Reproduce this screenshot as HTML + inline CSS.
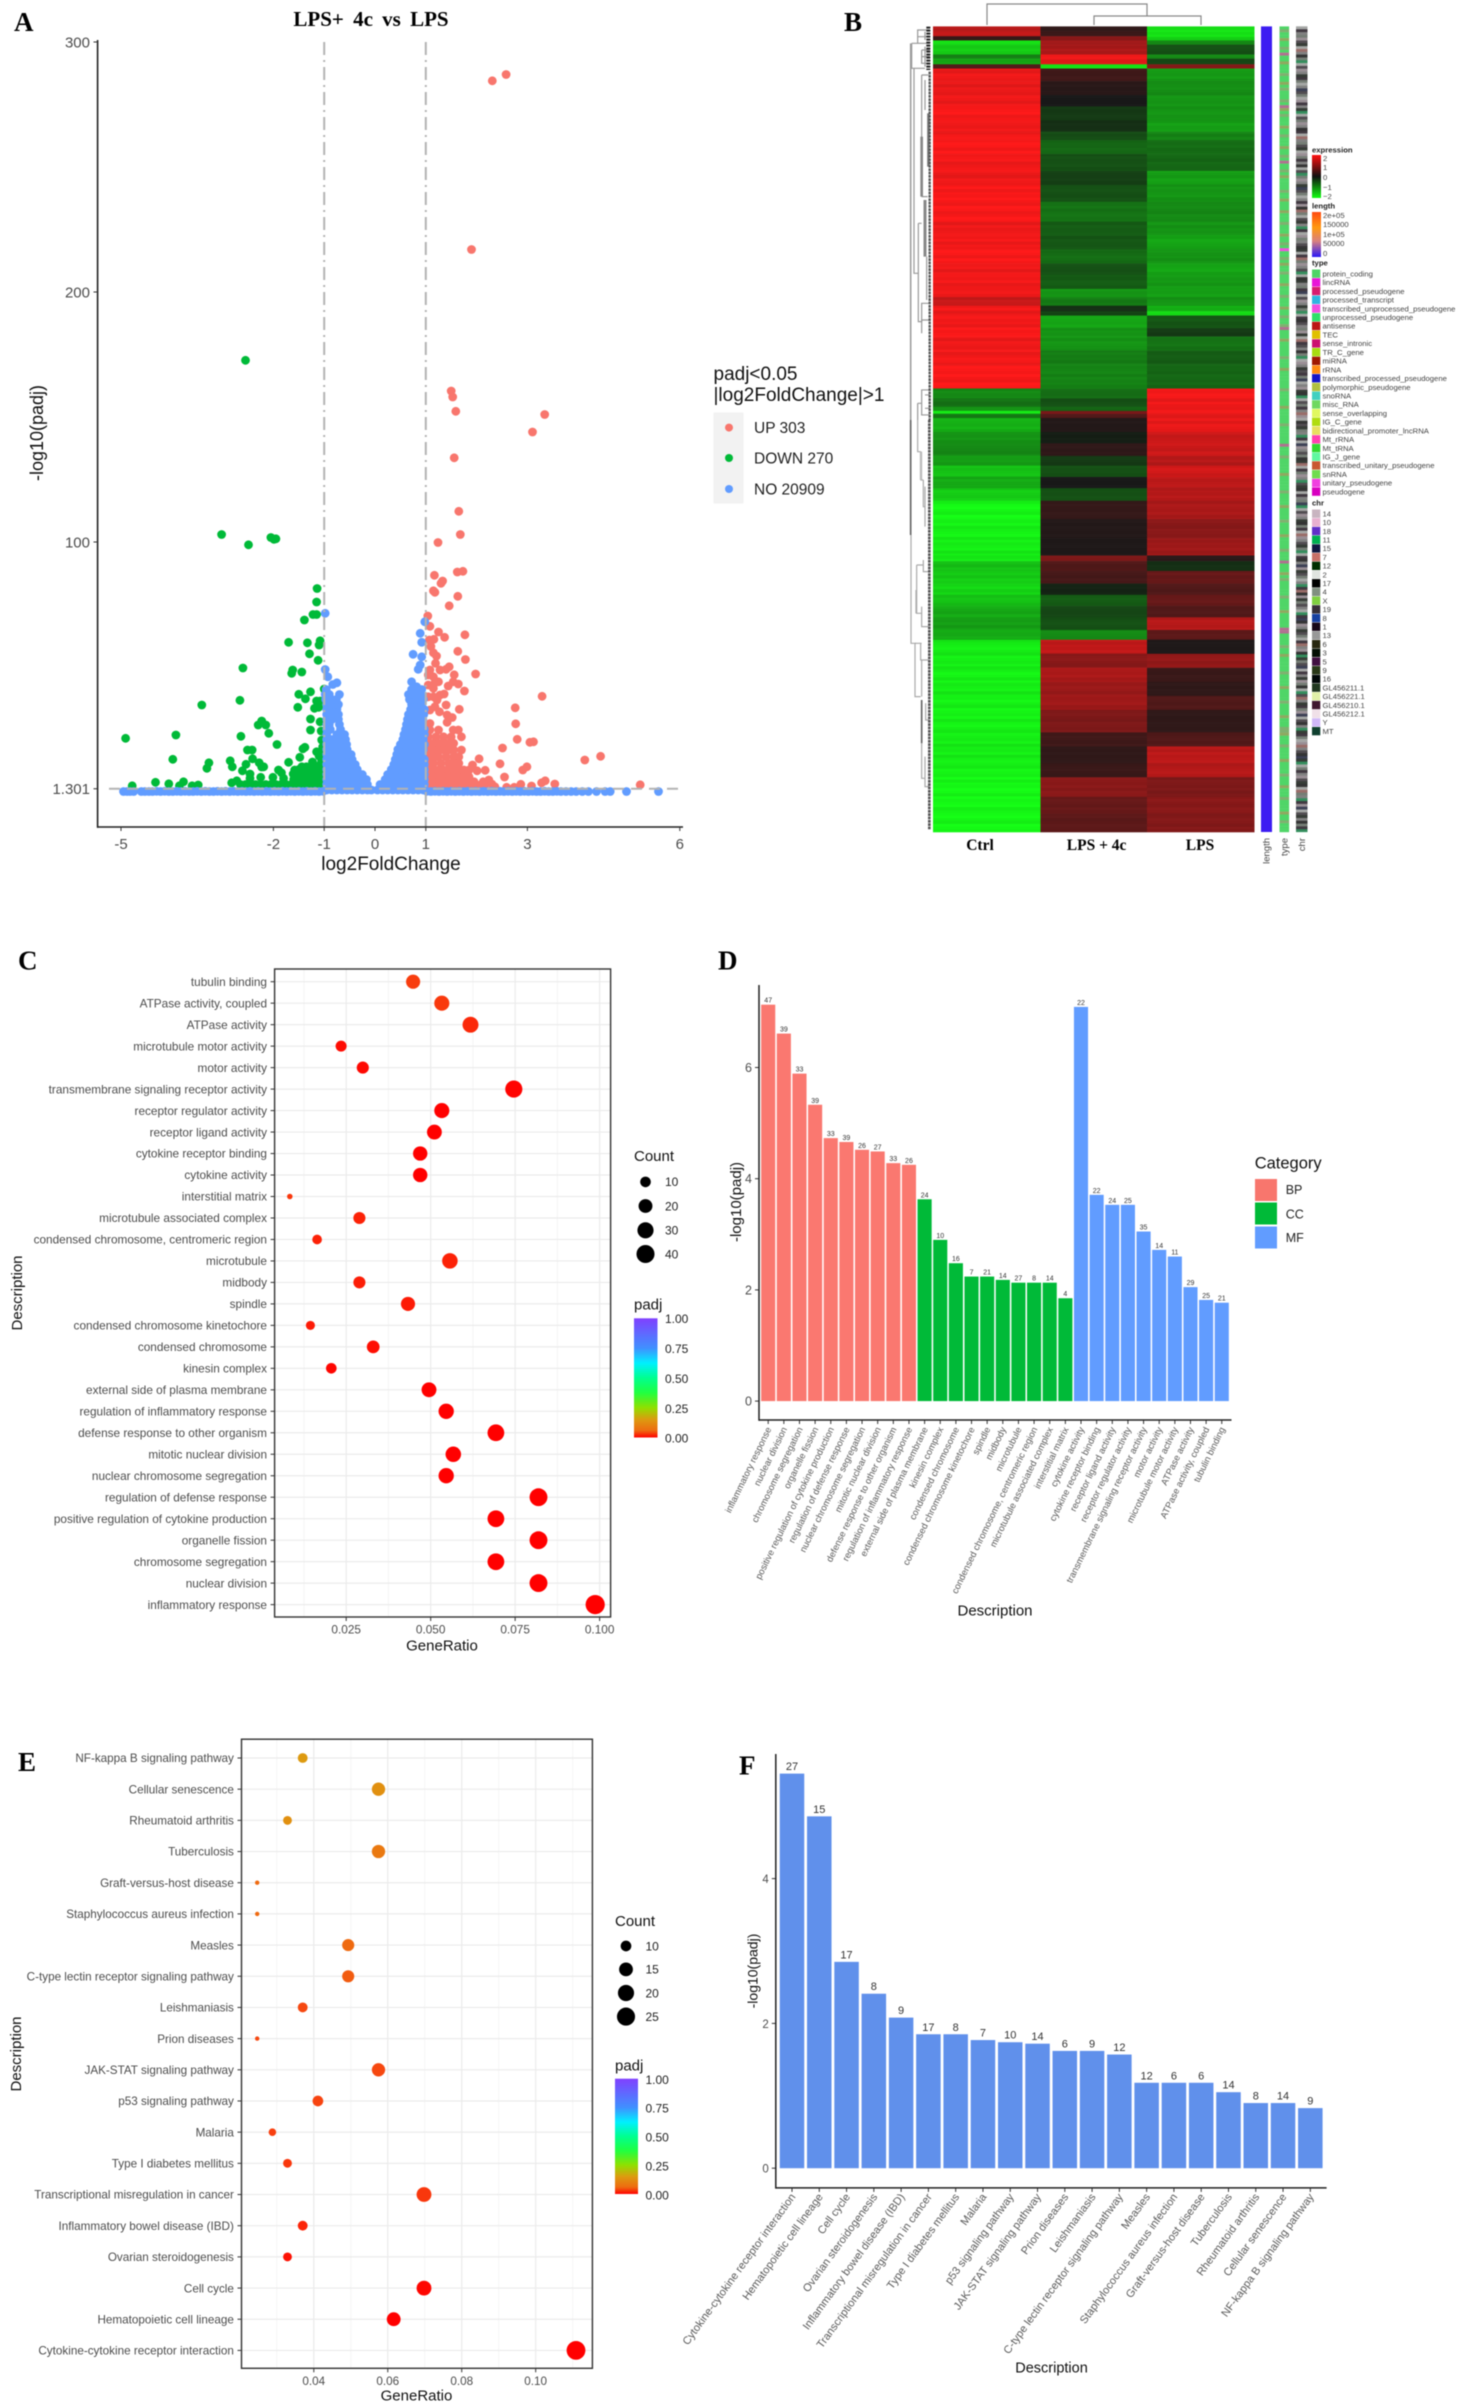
<!DOCTYPE html>
<html lang="en">
<head>
<meta charset="utf-8">
<title>LPS + 4c vs LPS transcriptomic analysis figure</title>
<style>
html,body{margin:0;padding:0;background:#fff;}
#figure{display:block;width:1459px;height:2405px;filter:blur(0.45px);font-family:"Liberation Sans",sans-serif;}
.letter{font-family:"Liberation Serif",serif;font-weight:bold;font-size:27px;fill:#000;}
.serif-b{font-family:"Liberation Serif",serif;font-weight:bold;fill:#000;}
.atitle{font-size:15px;fill:#111;}
.tick{fill:#4d4d4d;}
</style>
</head>
<body>
<svg id="figure" xmlns="http://www.w3.org/2000/svg" width="1459" height="2405" viewBox="0 0 1459 2405">
<defs>
<linearGradient id="padjGradC" x1="0" y1="1" x2="0" y2="0">
<stop offset="0" stop-color="#ff0000"/><stop offset="0.06" stop-color="#ee6c10"/><stop offset="0.15" stop-color="#dd9a10"/><stop offset="0.25" stop-color="#90e000"/><stop offset="0.375" stop-color="#20ff40"/><stop offset="0.5" stop-color="#00ff90"/><stop offset="0.625" stop-color="#00f0ff"/><stop offset="0.75" stop-color="#4090ff"/><stop offset="1" stop-color="#8040ff"/>
</linearGradient>
<linearGradient id="exprGrad" x1="0" y1="0" x2="0" y2="1">
<stop offset="0" stop-color="#ff1010"/><stop offset="0.5" stop-color="#111"/><stop offset="1" stop-color="#10ff10"/>
</linearGradient>
<linearGradient id="lenGrad" x1="0" y1="0" x2="0" y2="1">
<stop offset="0" stop-color="#ff4a10"/><stop offset="0.35" stop-color="#ff9a10"/><stop offset="0.65" stop-color="#d88080"/><stop offset="1" stop-color="#2a18f8"/>
</linearGradient>
<clipPath id="clipC"><rect x="274.6" y="969" width="336" height="648"/></clipPath>
<clipPath id="clipE"><rect x="241.5" y="1739.2" width="351" height="629"/></clipPath>
</defs>

<!-- Panel A -->
<g id="panel-a">
<text class="letter" x="14" y="31">A</text>
<text class="serif-b" x="371" y="26" text-anchor="middle" font-size="21" word-spacing="4">LPS+ 4c vs LPS</text>
<g id="volcano-layer"></g>
<text x="391" y="870" text-anchor="middle" font-size="19" fill="#111">log2FoldChange</text>
<text transform="translate(43,433) rotate(-90)" text-anchor="middle" font-size="18" fill="#111">-log10(padj)</text>
<g>
<text x="713.5" y="380" font-size="19" fill="#111">padj&lt;0.05</text>
<text x="713.5" y="401" font-size="19" fill="#111">|log2FoldChange|&gt;1</text>
<rect x="713.5" y="412.5" width="30" height="91" fill="#f2f2f2"/>
<circle cx="729" cy="427.6" r="4" fill="#F8766D"/>
<circle cx="729" cy="458" r="4" fill="#00BA38"/>
<circle cx="729" cy="489" r="4" fill="#619CFF"/>
<text x="754" y="433" font-size="15.5" fill="#222">UP 303</text>
<text x="754" y="463.5" font-size="15.5" fill="#222">DOWN 270</text>
<text x="754" y="494.5" font-size="15.5" fill="#222">NO 20909</text>
</g>
</g>

<!-- Panel B -->
<g id="panel-b">
<text class="letter" x="844" y="31">B</text>
<g id="heat-layer"></g>
<path d="M987 25V4H1147V16M1094 25V16H1201V25" fill="none" stroke="#888" stroke-width="1.2"/>
<g transform="translate(905,0) scale(0.3333)" fill="none" stroke="#999" stroke-width="3.6">
<path d="M20 130V205H60M20 130H38V90H75M38 130V110H75M38 130H75M50 150H75M50 170H75M50 150V190H75M60 95V120M60 140V200"/>
<path d="M17 130V1260" stroke-width="4.5"/>
<path d="M27 205V820H40M40 670V965H50V910H75M40 670H50M50 225V590M50 225H70M50 590H68M60 240V330"/>
<path d="M50 410V590" stroke="#888" stroke-width="8"/>
<path d="M60 600V770" stroke="#888" stroke-width="9"/>
<path d="M70 340V500" stroke="#777" stroke-width="7"/>
<path d="M65 770V900M50 1000V960H72M38 1210V1260M38 1210H50V1170H75M50 1210V1245H75M60 1185H75M60 1225H75"/>
<path d="M74 215V1260" stroke="#555" stroke-width="7" stroke-dasharray="8 2"/>
<path d="M70 80V210" stroke="#222" stroke-width="12" stroke-dasharray="6 3"/>
</g>
<g transform="translate(905,420) scale(0.3333)" fill="none" stroke="#aaa" stroke-width="3.6">
<path d="M17 0V345" stroke="#666" stroke-width="5"/>
<path d="M18 345V670H33M38 0V95H48M48 95V180H55M55 180V260H62M60 200V320"/>
<path d="M48 95V180" stroke="#bbb" stroke-width="7"/>
<path d="M35 435V580H50M35 435H55M55 420V455H72M33 510V580M50 560V620H70M30 670V830H47M30 670H50M47 670V720H70M50 720V830"/>
<path d="M50 840V970" stroke="#666" stroke-width="5"/>
<path d="M50 970V1075H60M60 1010V1100H72M62 850V900H72"/>
<path d="M73 0V1230" stroke="#555" stroke-width="8" stroke-dasharray="8 2"/>
</g>
<text class="serif-b" x="980" y="850" text-anchor="middle" font-size="15.5">Ctrl</text>
<text class="serif-b" x="1096.6" y="850" text-anchor="middle" font-size="15.5">LPS + 4c</text>
<text class="serif-b" x="1200" y="850" text-anchor="middle" font-size="15.5">LPS</text>
<text transform="translate(1269.5,838) rotate(-90)" text-anchor="end" font-size="9.5" fill="#444">length</text>
<text transform="translate(1287.5,838) rotate(-90)" text-anchor="end" font-size="9.5" fill="#444">type</text>
<text transform="translate(1305,838) rotate(-90)" text-anchor="end" font-size="9.5" fill="#444">chr</text>
<g font-size="7.7" fill="#444">
<text x="1312" y="152.5" font-weight="bold" fill="#222">expression</text>
<rect x="1312" y="155" width="9" height="43" fill="url(#exprGrad)"/>
<text x="1323" y="161">2</text>
<text x="1323" y="170">1</text>
<text x="1323" y="180">0</text>
<text x="1323" y="190">−1</text>
<text x="1323" y="199">−2</text>
<text x="1312" y="208.5" font-weight="bold" fill="#222">length</text>
<rect x="1312" y="212" width="9" height="45" fill="url(#lenGrad)"/>
<text x="1323" y="218">2e+05</text>
<text x="1323" y="227">150000</text>
<text x="1323" y="237">1e+05</text>
<text x="1323" y="246">50000</text>
<text x="1323" y="256">0</text>
<text x="1312" y="265.5" font-weight="bold" fill="#222">type</text>
<text x="1312" y="505.5" font-weight="bold" fill="#222">chr</text>
<g id="heat-legend-items"></g>
</g>
</g>

<!-- Panel C -->
<g id="panel-c">
<text class="letter" x="18" y="969.6">C</text>
<g id="c-layer"></g>
<text class="atitle" x="442" y="1650.6" text-anchor="middle">GeneRatio</text>
<text class="atitle" transform="translate(22,1293) rotate(-90)" text-anchor="middle">Description</text>
<text class="atitle" x="634" y="1161">Count</text>
<text class="atitle" x="634" y="1309.4">padj</text>
<rect x="634" y="1318.3" width="23.5" height="119.2" fill="url(#padjGradC)"/>
</g>

<!-- Panel D -->
<g id="panel-d">
<text class="letter" x="718" y="969.6">D</text>
<g id="d-layer"></g>
<text class="atitle" x="995" y="1615.7" text-anchor="middle">Description</text>
<text class="atitle" transform="translate(741,1202) rotate(-90)" text-anchor="middle">-log10(padj)</text>
<text x="1254.7" y="1168.4" font-size="16.5" fill="#111">Category</text>
<rect x="1255" y="1179" width="22" height="22" fill="#F8766D"/>
<rect x="1255" y="1202.5" width="22" height="22" fill="#00BA38"/>
<rect x="1255" y="1226.5" width="22" height="22" fill="#619CFF"/>
<text x="1285.7" y="1194" font-size="12.5" fill="#222">BP</text>
<text x="1285.7" y="1218.3" font-size="12.5" fill="#222">CC</text>
<text x="1285.7" y="1242" font-size="12.5" fill="#222">MF</text>
</g>

<!-- Panel E -->
<g id="panel-e">
<g id="e-layer"></g>
<text class="letter" x="18" y="1771">E</text>
<text class="atitle" x="416.5" y="2400.6" text-anchor="middle">GeneRatio</text>
<text class="atitle" transform="translate(21,2054) rotate(-90)" text-anchor="middle">Description</text>
<text class="atitle" x="615" y="1926">Count</text>
<text class="atitle" x="615" y="2070.4">padj</text>
<rect x="615" y="2078.7" width="23" height="115.3" fill="url(#padjGradC)"/>
</g>

<!-- Panel F -->
<g id="panel-f">
<text class="letter" x="739" y="1774.6">F</text>
<g id="f-layer"></g>
<text x="1051.5" y="2372.7" text-anchor="middle" font-size="14.5" fill="#111">Description</text>
<text transform="translate(757.5,1971) rotate(-90)" text-anchor="middle" font-size="14" fill="#111">-log10(padj)</text>
</g>
</svg>

<script>
/* ---------- Panel A data: [log2FoldChange, -log10(padj)] ---------- */
const volcanoXTicks = [-5, -2, -1, 0, 1, 3, 6];
const volcanoYTicks = [300, 200, 100, 1.301];
const upPoints = [[2.31,284.5],[2.58,287],[1.9,217],[1.5,160.4],[1.53,158],[1.59,152.3],[3.34,151],[3.1,144],[1.56,133.7],[1.65,112.3],[1.68,103],[1.24,99.8],
[1.17,86.7],[1.62,88],[1.73,88.3],[1.33,84.4],[1.3,83.5],[1.15,80.5],[1.18,79.9],[1.63,78.3],[1.46,74.5],[1.04,70.4],[1.08,66.3],[1.25,64],[1.77,62.9],[1.37,61.9],[1.16,61.1],[1.07,60.8],[1.1,58.2],[1.63,56.3],[1.15,55.7],[1.21,54.4],[1.78,53],[1.19,51.5],[1.46,50.1],[1.4,49.1],[1.28,48.8],[1.08,48.8],[1.98,47.2],[1.56,46.9],[1.15,46.1],[1.05,46.8],[1.25,44.1],[1.18,43.7],[1.64,43.2],[1.54,44.1],[1.44,42.4],[1.05,42.8],[1.15,41.5],[1.76,40.4],[1.36,39.2],[1.28,38.8],[1.15,38.1],[1.05,38.1],[1.22,36.8],[1.4,34.8],[1.18,34.1],[1.66,33.1],[1.27,32.1],[1.08,32.8],[1.42,30.8],[1.52,29.8],[1.42,27.9],[1.08,27.4],
[3.29,38.3],[2.76,33.7],[2.77,27.3],[2.8,21.1],[3.05,19.9],[3.12,20.1],[2.51,17.6],[4.13,12.8],[4.44,14.3],[2.05,13.3],[2.46,11.3],[1.92,10.8],[2.99,10.1],[2.91,8.8],[2.17,8.7],[2.01,8.5],[2.55,6],[3.35,4.5],[3.28,3.7],[3.54,3.2],[5.22,2.9],[2.87,3.1],[3.08,2.4],[2.74,1.9],[2.59,1.9],[2.24,4.8],[2.13,4.1],[2.3,3.2],[2.07,2.8],[2.36,2.1],
[1.08,24.8],[1.25,24.8],[1.54,24.8],[1.64,24.8],[1.05,22.1],[1.2,22.1],[1.35,22.1],[1.5,22.1],[1.7,22.1],[1.05,19.5],[1.15,19.5],[1.25,19.5],[1.35,19.5],[1.45,19.5],[1.55,19.5],[1.05,16.8],[1.15,16.8],[1.25,16.8],[1.35,16.8],[1.45,16.8],[1.55,16.8],[1.7,16.8],[1.05,14.1],[1.15,14.1],[1.25,14.1],[1.4,14.1],[1.55,14.1],[1.65,14.1],[1.05,11.5],[1.15,11.5],[1.3,11.5],[1.45,11.5],[1.55,11.5],[1.65,11.5],
[1.05,8.8],[1.15,8.8],[1.25,8.8],[1.35,8.8],[1.45,8.8],[1.55,8.8],[1.65,8.8],[1.75,8.8],[1.85,8.8],[1.05,6.1],[1.15,6.1],[1.25,6.1],[1.35,6.1],[1.45,6.1],[1.55,6.1],[1.65,6.1],[1.75,6.1],[1.85,6.1],[1.05,4.1],[1.15,4.1],[1.25,4.1],[1.35,4.1],[1.45,4.1],[1.55,4.1],[1.65,4.1],[1.75,4.1],[1.85,4.1],[1.95,4.1],[1.05,2.4],[1.15,2.4],[1.25,2.4],[1.35,2.4],[1.45,2.4],[1.55,2.4],[1.65,2.4],[1.75,2.4],[1.85,2.4],[1.95,2.4],[2.05,2.4],[2.15,2.4]];
const downPoints = [[-2.55,172.7],[-3.02,103],[-2.49,98.9],[-2.05,101.8],[-1.99,101.1],[-1.95,101.3],[-1.14,81.4],[-1.15,76],[-1.39,68.8],[-1.22,71],[-1.15,71],
[-1.7,59.9],[-1.33,59.7],[-1.08,60.5],[-1.1,58.8],[-1.29,55.3],[-1.12,52.7],[-2.6,49.6],[-1.62,48.8],[-1.64,47.5],[-1.44,48],[-1.0,41.2],[-1.27,40.1],[-1.5,39.1],[-1.37,37.3],[-2.66,36.7],[-3.41,34.8],[-1.15,36.4],[-1.08,36.4],[-1.52,33.9],[-1.19,33.5],[-1.11,33.9],[-1.27,29.2],[-1.08,28.1],[-2.23,28.4],[-2.3,26.8],[-2.15,26.8],[-1.27,24.8],[-1.06,24.4],[-2.09,23.5],[-3.92,22.8],[-2.64,22.3],[-4.91,21.5],[-1.93,19],[-1.05,20.8],[-1.38,17.9],[-1.42,17.3],[-2.51,16.8],[-2.42,16.8],[-1.15,16.1],[-1.1,14.4],[-1.48,13.9],[-2.41,13.3],[-3.98,13.1],[-2.85,12.5],[-3.27,11.7],[-2.28,11.7],[-1.23,12],[-1.7,11.9],[-2.54,11.1],[-3.31,9.5],[-2.81,10.1],[-2.23,10],[-2.19,10.1],[-1.44,10.1],[-1.35,10.1],[-1.08,10.8],[-2.61,8.5],[-1.9,8.8],[-1.84,7.7],[-1.58,8.8],[-1.15,9.5],[-2.46,7.2],[-1.61,7.2],[-2.25,5.9],[-2.01,5.9],[-2.46,5.5],[-1.8,5.5],
[-4.32,3.9],[-4.06,3.3],[-3.77,4.1],[-4.78,2.5],[-3.85,2.5],[-3.6,2.5],[-3.48,2.8],[-2.82,3.7],[-2.72,4.5],
[-2.65,3],[-2.55,3],[-2.45,3],[-2.35,3],[-2.25,3],[-2.15,3],[-2.05,3],[-1.95,3],[-1.85,3],[-1.75,3],[-1.65,3],[-1.55,3],[-1.45,3],[-1.35,3],[-1.25,3],[-1.15,3],[-1.05,3],
[-1.6,5],[-1.5,5],[-1.4,5],[-1.3,5],[-1.2,5],[-1.1,5],[-1.03,5],[-1.55,7],[-1.45,7],[-1.35,7],[-1.25,7],[-1.15,7],[-1.05,7],[-1.5,9],[-1.4,9],[-1.3,9],[-1.2,9],[-1.1,9],[-1.03,9],[-1.05,12.5],[-1.05,16],[-1.03,18]];
const noPoints = [[-4.95,0.2],[-4.88,0.2],[-4.82,0.2],[-4.75,0.2],[-4.6,0.2],[-4.53,0.2],[-4.45,0.2],[-4.38,0.2],[-4.3,0.3],[-4.22,0.2],[-4.14,0.3],[-4.06,0.2],[-3.98,0.2],[-3.9,0.3],[-3.82,0.2],[-3.74,0.3],[-3.66,0.2],[-3.58,0.2],[-3.5,0.3],[-3.42,0.2],[-3.34,0.3],[-3.26,0.2],[-3.18,0.2],[-3.1,0.3],[-3.02,0.2],[-2.94,0.3],[-2.86,0.2],[-2.78,0.3],[-2.7,0.2],[-2.62,0.3],[-2.54,0.2],[-2.46,0.3],[-2.38,0.2],[-2.3,0.3],[-2.22,0.2],[-2.14,0.3],[-2.06,0.2],[-1.98,0.3],[-1.9,0.2],[-1.82,0.3],[-1.74,0.2],[-1.66,0.3],[-1.58,0.2],[-1.5,0.3],[-1.42,0.2],[-1.34,0.3],[-1.26,0.2],[-1.18,0.3],[-1.1,0.2],[-1.02,0.3],
[1.02,0.3],[1.1,0.2],[1.18,0.3],[1.26,0.2],[1.34,0.3],[1.42,0.2],[1.5,0.3],[1.58,0.2],[1.66,0.3],[1.74,0.2],[1.82,0.3],[1.9,0.2],[1.98,0.3],[2.06,0.2],[2.14,0.3],[2.22,0.2],[2.3,0.3],[2.38,0.2],[2.46,0.3],[2.54,0.2],[2.62,0.3],[2.7,0.2],[2.78,0.3],[2.86,0.2],[2.94,0.3],[3.02,0.2],[3.1,0.3],[3.18,0.2],[3.26,0.2],[3.34,0.3],[3.42,0.2],[3.5,0.2],[3.58,0.3],[3.66,0.2],[3.76,0.2],[3.86,0.2],[3.96,0.2],[4.08,0.2],[4.2,0.2],[4.36,0.2],[4.53,0.2],[4.63,0.2],[4.95,0.2],[5.58,0.2],
[-0.95,0.8],[-0.85,0.8],[-0.75,0.8],[-0.65,0.8],[-0.55,0.8],[-0.45,0.8],[-0.35,0.8],[-0.25,0.8],[-0.15,0.8],[-0.07,0.8],[-0.95,3],[-0.85,3],[-0.75,3],[-0.65,3],[-0.55,3],[-0.45,3],[-0.35,3],[-0.25,3],[-0.15,3],[-0.95,5],[-0.85,5],[-0.75,5],[-0.65,5],[-0.55,5],[-0.45,5],[-0.35,5],[-0.25,5],[-0.17,5],[-0.95,7],[-0.85,7],[-0.75,7],[-0.65,7],[-0.55,7],[-0.45,7],[-0.35,7],[-0.25,7],[-0.95,9],[-0.85,9],[-0.75,9],[-0.65,9],[-0.55,9],[-0.45,9],[-0.35,9],[-0.95,11],[-0.85,11],[-0.75,11],[-0.65,11],[-0.55,11],[-0.45,11],[-0.39,11],[-0.95,13],[-0.85,13],[-0.75,13],[-0.65,13],[-0.55,13],[-0.45,13],[-0.95,15],[-0.85,15],[-0.75,15],[-0.65,15],[-0.55,15],[-0.47,15],[-0.95,17],[-0.85,17],[-0.75,17],[-0.65,17],[-0.55,17],[-0.95,19],[-0.85,19],[-0.75,19],[-0.65,19],[-0.56,19],[-0.95,21],[-0.85,21],[-0.75,21],[-0.65,21],[-0.58,21],[-0.95,23],[-0.75,23],[-0.66,23],[-0.6,23],[-0.95,25],[-0.88,25],[-0.68,25],[-0.95,27],[-0.9,27],[-0.7,27],[-0.95,29],[-0.85,29],[-0.72,29],[-0.95,31],[-0.85,31],[-0.72,31],[-0.95,33],[-0.85,33],[-0.75,33],[-0.95,35],[-0.88,35],[-0.78,35],[-0.72,35],[-0.97,37],[-0.85,37],[-0.76,37],[-0.98,39],[-0.9,39],[-0.7,39],[-0.96,41],[-0.98,49],[-0.93,46.1],[-0.83,43],[-0.75,43.7],[-0.98,71.5],
[0.05,0.8],[0.15,0.8],[0.25,0.8],[0.35,0.8],[0.45,0.8],[0.55,0.8],[0.65,0.8],[0.75,0.8],[0.85,0.8],[0.95,0.8],[0.1,3],[0.2,3],[0.3,3],[0.4,3],[0.5,3],[0.6,3],[0.7,3],[0.8,3],[0.9,3],[0.97,3],[0.2,5],[0.3,5],[0.4,5],[0.5,5],[0.6,5],[0.7,5],[0.8,5],[0.9,5],[0.97,5],[0.25,7],[0.35,7],[0.45,7],[0.55,7],[0.65,7],[0.75,7],[0.85,7],[0.97,7],[0.32,9],[0.42,9],[0.52,9],[0.62,9],[0.72,9],[0.82,9],[0.92,9],[0.97,9],[0.37,11],[0.47,11],[0.57,11],[0.67,11],[0.77,11],[0.87,11],[0.97,11],[0.4,13],[0.5,13],[0.6,13],[0.7,13],[0.8,13],[0.9,13],[0.97,13],[0.43,15],[0.53,15],[0.63,15],[0.73,15],[0.83,15],[0.93,15],[0.45,17],[0.55,17],[0.65,17],[0.75,17],[0.85,17],[0.95,17],[0.5,19],[0.6,19],[0.7,19],[0.8,19],[0.9,19],[0.97,19],[0.55,21],[0.65,21],[0.75,21],[0.85,21],[0.95,21],[0.57,23],[0.67,23],[0.77,23],[0.87,23],[0.97,23],[0.6,25],[0.7,25],[0.8,25],[0.9,25],[0.97,25],[0.62,27],[0.72,27],[0.82,27],[0.92,27],[0.64,29],[0.74,29],[0.84,29],[0.94,29],[0.66,31],[0.76,31],[0.86,31],[0.96,31],[0.7,33],[0.8,33],[0.9,33],[0.97,33],[0.72,35],[0.82,35],[0.92,35],[0.68,37],[0.8,37],[0.88,37],[0.95,37],[0.66,39],[0.77,39],[0.9,39],[0.72,41],[0.82,41],[0.92,41],[0.82,42.1],[0.72,44.1],[0.85,49.1],[0.89,50.8],[0.92,54.1],[0.75,55.1],[0.92,59.9],[0.89,63.5],[0.98,68.1]];

/* ---------- Panel B data: row clusters ---------- */
const heatRowGenes = [3,4,3,3,7,3,4,3,9,10,8,10,8,6,10,12,10,12,14,10,10,10,8,10,6,6,4,3,9,6,10,10,17,7,6,3,2,3,10,8,9,7,8,8,9,13,14,12,4,7,9,8,8,8,9,7,10,10,10,10,10,16,10,12,10,14,12,13];
const heatCtrl = [1.4,1.5,0.3,-1.75,-1.6,-0.9,-1.3,0.5,1.9,1.85,1.9,2,1.9,1.95,2,1.95,1.9,2,2,1.9,1.95,2,1.9,1.95,1.9,1.55,1.95,1.9,1.95,2,1.9,1.95,2,-1,-0.8,-1.1,-1.85,-0.9,-1.35,-1.1,-1,-1.2,-1.5,-1.3,-1.6,-2,-1.95,-1.9,-1.85,-1.5,-1.6,-1.7,-1.5,-1.3,-1.2,-1.3,-1.9,-1.9,-1.95,-1.9,-1.95,-1.95,-1.9,-1.9,-1.95,-2,-2,-2];
const heatLps4c = [0.2,0.3,1,1.2,1.3,1.9,1.85,-1.8,0.35,0.15,0,-0.3,-0.2,-0.45,-0.7,-0.5,-0.35,-0.5,-0.8,-0.6,-0.55,-0.75,-0.5,-0.6,-1.1,-0.9,-0.2,-0.4,-1.25,-1.1,-1.1,-0.9,-0.95,-0.75,-0.5,-0.7,0.9,0.5,0.1,-0.05,0.2,-0.3,-0.5,0,-0.5,0.25,0.1,0.05,0.9,0.5,0.4,-0.1,-0.6,-0.4,-0.5,-1,1.5,1,1.3,1.15,1.2,0.9,0.35,0.2,0.3,1,0.7,0.6];
const heatLps = [-1.75,-1.8,-1.7,-1,-0.5,-1,-0.4,1,-1.15,-1.05,-1.1,-1.1,-1.2,-0.95,-0.75,-0.7,-1.2,-1.1,-1,-1.1,-1.25,-1.1,-1.25,-1.15,-1.2,-1.1,-1.4,-1.7,-0.55,-0.3,-0.8,-0.6,-0.7,1.95,1.9,1.95,1.9,1.8,1.85,1.6,1.6,1.4,1.65,1.45,1.4,1.3,1,1.2,0.15,-0.2,0.7,0.5,0.7,0.5,1.4,0.6,0.05,1.1,0.3,0.2,0.5,0.2,0.5,1.45,1.4,0.9,1,0.95];
const heatRowTexture = "0201301202103102301203012013021032012031020130210321023012031202301320130210203120130210301203210230120310213021030120320130120230130210321023012031203012302130210302130120310230120321030210312013021301203120130230120301203210230120320130210312023012031023012031203102301203120130210321023012";
const typeNames = ["protein_coding","lincRNA","processed_pseudogene","processed_transcript","transcribed_unprocessed_pseudogene","unprocessed_pseudogene","antisense","TEC","sense_intronic","TR_C_gene","miRNA","rRNA","transcribed_processed_pseudogene","polymorphic_pseudogene","snoRNA","misc_RNA","sense_overlapping","IG_C_gene","bidirectional_promoter_lncRNA","Mt_rRNA","Mt_tRNA","IG_J_gene","transcribed_unitary_pseudogene","snRNA","unitary_pseudogene","pseudogene"];
const typeColors = ["#4fd567","#e815d8","#d81b70","#2fb5e0","#f04fe0","#2fe068","#bb1515","#e0c000","#cc1070","#a8dc10","#a01800","#ff8a10","#1515c8","#b0c040","#40d0c0","#70d860","#e0f860","#b0dc10","#e8e060","#ff40b0","#30d830","#60f8a0","#c85830","#70dc50","#f040e0","#d800c0"];
const chrNames = ["14","10","18","11","15","7","12","2","17","4","X","19","8","1","13","6","3","5","9","16","GL456211.1","GL456221.1","GL456210.1","GL456212.1","Y","MT"];
const chrColors = ["#c8b4c0","#e8b0d0","#6030c8","#00b050","#101840","#c87068","#003000","#e0e4e0","#000000","#809080","#80d040","#383038","#1840a0","#180818","#989898","#282810","#041004","#401040","#283818","#000808","#203820","#e0f0a8","#401830","#f0e0e8","#d0b8f8","#104030"];
const typeStripes = "acaagaacaiaagaaacaagacaaacaigacaaagaacaaagaacaiaacagaaaacaagaaagaaacaaagaacaeaacagaacaaagaaacaaagaacaaciaaagaaaaacaaagaaaaaacaaaaagaaaaacaaaaaaiaaacaaaaagaaaaacaaaagaaaacaaaagaaaacaaaiaaagacaaaaacaaaagaaaaaiiaaaacaagaaaaacaaaagaaaacaaaagaaaccgaaacaaaagaaaacaaagaaacaaaagaacaaa";
const chrStripes = "hnojalqhfoijdhlaoqnjhoeljhanoqdhljaoinhfojlqhajnoihldjaoqeljhonaifjhlqodnhajoliqhnfjaoldhiqojnehlaoqjdhnilojaqhfnloijdhaoqlnjehoaqidhljnofahilqjodnheaoljiqfhnjaodlqihnojedhlaoqijnhfaolqjdhnioeaqljhodnfiaqjlohdneiaoqljhnfoaidqjlehnoqajihdlfoqnjaehliodqnjhafolieqdhjnoalqihfjodnaehlqoijnd";

/* ---------- Panel C data ---------- */
const goTerms = ["tubulin binding","ATPase activity, coupled","ATPase activity","microtubule motor activity","motor activity","transmembrane signaling receptor activity","receptor regulator activity","receptor ligand activity","cytokine receptor binding","cytokine activity","interstitial matrix","microtubule associated complex","condensed chromosome, centromeric region","microtubule","midbody","spindle","condensed chromosome kinetochore","condensed chromosome","kinesin complex","external side of plasma membrane","regulation of inflammatory response","defense response to other organism","mitotic nuclear division","nuclear chromosome segregation","regulation of defense response","positive regulation of cytokine production","organelle fission","chromosome segregation","nuclear division","inflammatory response"];
const goRatio = [0.0448,0.0533,0.0618,0.0235,0.0299,0.0746,0.0533,0.0511,0.0469,0.0469,0.0083,0.0289,0.0164,0.0557,0.0289,0.0433,0.0144,0.033,0.0206,0.0495,0.0546,0.0693,0.0567,0.0546,0.0819,0.0693,0.0819,0.0693,0.0819,0.0987];
const goCount = [21,25,29,11,14,35,25,24,22,22,4,14,8,27,14,21,7,16,10,24,26,33,27,26,39,33,39,33,39,47];
const goPadj = [0.017,0.015,0.009,0.0025,0.0019,0.0009,0.0003,0.0003,0.0002,0,0.014,0.0074,0.0074,0.0074,0.0066,0.0058,0.0058,0.0033,0.0013,0.0002,0,0,0,0,0,0,0,0,0,0];
const goXTicks = [0.025,0.05,0.075,0.1];
const goXTickLabels = ["0.025","0.050","0.075","0.100"];
const goCountLegend = [10,20,30,40];
const padjLegend = ["1.00","0.75","0.50","0.25","0.00"];
const padjLegendValues = [1,0.75,0.5,0.25,0];

/* ---------- Panel D data ---------- */
const goBarTerms = ["inflammatory response","nuclear division","chromosome segregation","organelle fission","positive regulation of cytokine production","regulation of defense response","nuclear chromosome segregation","mitotic nuclear division","defense response to other organism","regulation of inflammatory response","external side of plasma membrane","kinesin complex","condensed chromosome","condensed chromosome kinetochore","spindle","midbody","microtubule","condensed chromosome, centromeric region","microtubule associated complex","interstitial matrix","cytokine activity","cytokine receptor binding","receptor ligand activity","receptor regulator activity","transmembrane signaling receptor activity","motor activity","microtubule motor activity","ATPase activity","ATPase activity, coupled","tubulin binding"];
const goBarValues = [7.13,6.61,5.89,5.33,4.73,4.66,4.52,4.49,4.28,4.25,3.63,2.9,2.48,2.24,2.24,2.18,2.13,2.13,2.13,1.85,7.09,3.71,3.53,3.53,3.05,2.72,2.6,2.05,1.82,1.77];
const goBarCounts = [47,39,33,39,33,39,26,27,33,26,24,10,16,7,21,14,27,8,14,4,22,22,24,25,35,14,11,29,25,21];
const goBarCategories = ["BP","BP","BP","BP","BP","BP","BP","BP","BP","BP","CC","CC","CC","CC","CC","CC","CC","CC","CC","CC","MF","MF","MF","MF","MF","MF","MF","MF","MF","MF"];
const goBarYTicks = [0,2,4,6];

/* ---------- Panel E data ---------- */
const keggTerms = ["NF-kappa B signaling pathway","Cellular senescence","Rheumatoid arthritis","Tuberculosis","Graft-versus-host disease","Staphylococcus aureus infection","Measles","C-type lectin receptor signaling pathway","Leishmaniasis","Prion diseases","JAK-STAT signaling pathway","p53 signaling pathway","Malaria","Type I diabetes mellitus","Transcriptional misregulation in cancer","Inflammatory bowel disease (IBD)","Ovarian steroidogenesis","Cell cycle","Hematopoietic cell lineage","Cytokine-cytokine receptor interaction"];
const keggRatio = [0.037,0.0575,0.0329,0.0575,0.0247,0.0247,0.0493,0.0493,0.037,0.0247,0.0575,0.0411,0.0288,0.0329,0.0698,0.037,0.0329,0.0698,0.0616,0.1109];
const keggCount = [9,14,8,14,6,6,12,12,9,6,14,10,7,8,17,9,8,17,15,27];
const keggPadj = [0.15,0.13,0.13,0.09,0.067,0.067,0.067,0.05,0.025,0.025,0.025,0.02,0.018,0.014,0.014,0.008,0.004,0.0014,0.00001,0];
const keggXTicks = [0.04,0.06,0.08,0.1];
const keggXTickLabels = ["0.04","0.06","0.08","0.10"];
const keggCountLegend = [10,15,20,25];

/* ---------- Panel F data ---------- */
const keggBarTerms = ["Cytokine-cytokine receptor interaction","Hematopoietic cell lineage","Cell cycle","Ovarian steroidogenesis","Inflammatory bowel disease (IBD)","Transcriptional misregulation in cancer","Type I diabetes mellitus","Malaria","p53 signaling pathway","JAK-STAT signaling pathway","Prion diseases","Leishmaniasis","C-type lectin receptor signaling pathway","Measles","Staphylococcus aureus infection","Graft-versus-host disease","Tuberculosis","Rheumatoid arthritis","Cellular senescence","NF-kappa B signaling pathway"];
const keggBarValues = [5.45,4.86,2.85,2.41,2.08,1.85,1.85,1.77,1.74,1.72,1.62,1.62,1.57,1.18,1.18,1.18,1.05,0.9,0.9,0.83];
const keggBarCounts = [27,15,17,8,9,17,8,7,10,14,6,9,12,12,6,6,14,8,14,9];
const keggBarYTicks = [0,2,4];

/* ---------- helpers ---------- */
const SVGNS = "http://www.w3.org/2000/svg";
function mk(parent, tag, attrs, text) {
  const el = document.createElementNS(SVGNS, tag);
  for (const k in attrs) el.setAttribute(k, attrs[k]);
  if (text !== undefined) el.textContent = text;
  parent.appendChild(el);
  return el;
}
function label(el, name) {
  
  
  return el;
}
function slug(s) { return s.toLowerCase().replace(/[^a-z0-9]+/g, '-').replace(/^-|-$/g, ''); }
const padjStops = [[0,[255,0,0]],[0.01,[251,46,10]],[0.02,[247,68,16]],[0.07,[238,108,16]],[0.1,[232,128,16]],[0.15,[221,154,16]],[0.25,[144,224,0]],[0.375,[32,255,64]],[0.5,[0,255,144]],[0.625,[0,240,255]],[0.75,[64,144,255]],[1,[128,64,255]]];
function padjColor(p) {
  for (let i = 1; i < padjStops.length; i++) {
    if (p <= padjStops[i][0]) {
      const a = padjStops[i-1], b = padjStops[i], t = (p - a[0]) / (b[0] - a[0]);
      return 'rgb(' + a[1].map((c, j) => Math.round(c + (b[1][j] - c) * t)).join(',') + ')';
    }
  }
  return 'rgb(128,64,255)';
}

/* ---------- Panel A ---------- */
(function () {
  const g = document.getElementById('volcano-layer');
  const xA = v => 375 + v * 50.8;
  const yA = v => 542 + (100 - v) * 2.5;
  const series = [[upPoints, '#F8766D', 'up-point'], [downPoints, '#00BA38', 'down-point'], [noPoints, '#619CFF', 'not-significant-point']];
  series.forEach(s => {
    s[0].forEach(p => {
      const c = mk(g, 'circle', {cx: xA(p[0]).toFixed(1), cy: yA(p[1]).toFixed(1), r: 4.4, fill: s[1]});
      label(c, s[2]);
    });
  });
  [-1, 1].forEach(v => {
    const l = mk(g, 'line', {x1: xA(v), x2: xA(v), y1: 42, y2: 827, stroke: '#b3b3b3', 'stroke-width': 2, 'stroke-dasharray': '13 5 2 5'});
    label(l, 'fold-change-threshold-line');
  });
  const hl = mk(g, 'line', {x1: 109, x2: 683, y1: yA(1.301), y2: yA(1.301), stroke: '#b3b3b3', 'stroke-width': 2, 'stroke-dasharray': '11 7'});
  label(hl, 'significance-threshold-line');
  const axY = mk(g, 'line', {x1: 97.6, x2: 97.6, y1: 40, y2: 827.7, stroke: '#222', 'stroke-width': 1.6});
  label(axY, 'volcano-y-axis');
  const axX = mk(g, 'line', {x1: 97, x2: 683, y1: 827, y2: 827, stroke: '#222', 'stroke-width': 1.6});
  label(axX, 'volcano-x-axis');
  volcanoXTicks.forEach(v => {
    const t = mk(g, 'line', {x1: xA(v), x2: xA(v), y1: 827, y2: 831, stroke: '#333', 'stroke-width': 1});
    label(t, 'volcano-x-tick');
    const tx = mk(g, 'text', {x: xA(v), y: 849, 'text-anchor': 'middle', 'font-size': 15, class: 'tick'}, String(v));
    label(tx, 'volcano-x-tick-label');
  });
  volcanoYTicks.forEach(v => {
    const t = mk(g, 'line', {x1: 93.5, x2: 97.6, y1: yA(v), y2: yA(v), stroke: '#333', 'stroke-width': 1});
    label(t, 'volcano-y-tick');
    const tx = mk(g, 'text', {x: 90, y: yA(v) + 5.5, 'text-anchor': 'end', 'font-size': 15, class: 'tick'}, String(v));
    label(tx, 'volcano-y-tick-label');
  });
})();

/* ---------- Panel B ---------- */
(function () {
  const g = document.getElementById('heat-layer');
  const top = 26.4, bottom = 832;
  const colEdges = [933, 1040.5, 1147, 1254.5];
  const total = heatRowGenes.reduce((a, b) => a + b, 0);
  const rowH = (bottom - top) / total;
  const heatColor = v => {
    const m = 26 + Math.abs(v) / 2 * 229;
    return v >= 0 ? 'rgb(' + Math.round(m) + ',26,26)' : 'rgb(22,' + Math.round(m) + ',22)';
  };
  const cols = [heatCtrl, heatLps4c, heatLps];
  const colNames = ['ctrl', 'lps-4c', 'lps'];
  let y = top;
  heatRowGenes.forEach((n, i) => {
    cols.forEach((col, c) => {
      const r = mk(g, 'rect', {x: colEdges[c], y: y.toFixed(2), width: colEdges[c + 1] - colEdges[c], height: (n * rowH + 0.3).toFixed(2), fill: heatColor(col[i])});
      label(r, 'heatmap-cell-' + colNames[c]);
    });
    y += n * rowH;
  });
  const texH = (bottom - top) / heatRowTexture.length;
  const texAlpha = [0, 0.02, 0.04, 0.07];
  [0, 1, 2].forEach(c => {
    for (let i = 0; i < heatRowTexture.length; i++) {
      const d = +heatRowTexture[(i + c * 37) % heatRowTexture.length];
      if (!d) continue;
      const r = mk(g, 'rect', {x: colEdges[c], y: (top + i * texH).toFixed(2), width: colEdges[c + 1] - colEdges[c], height: (texH + 0.2).toFixed(2), fill: '#000', 'fill-opacity': texAlpha[d]});
      label(r, 'heatmap-row-texture');
    }
  });
  const lenBar = mk(g, 'rect', {x: 1261, y: top, width: 11, height: bottom - top, fill: '#3c1cf2'});
  label(lenBar, 'length-annotation-bar');
  const typeH = (bottom - top) / typeStripes.length;
  for (let i = 0; i < typeStripes.length; i++) {
    const c = typeStripes.charCodeAt(i) - 97;
    const col = c === 0 ? typeColors[0] : c === 2 ? '#80b070' : c === 6 ? '#90a860' : c === 8 ? '#b07090' : typeColors[c];
    const r = mk(g, 'rect', {x: 1279.5, y: (top + i * typeH).toFixed(2), width: 9.6, height: (typeH + 0.2).toFixed(2), fill: col});
    label(r, 'type-annotation-stripe');
  }
  const chrBase = mk(g, 'rect', {x: 1296, y: top, width: 11.5, height: bottom - top, fill: '#6a6a6a'});
  label(chrBase, 'chr-annotation-bar');
  const chrH = (bottom - top) / chrStripes.length;
  for (let i = 0; i < chrStripes.length; i++) {
    const c = chrStripes.charCodeAt(i) - 97;
    const r = mk(g, 'rect', {x: 1296, y: (top + i * chrH).toFixed(2), width: 11.5, height: (chrH + 0.2).toFixed(2), fill: chrColors[c], 'fill-opacity': 0.5});
    label(r, 'chr-annotation-stripe');
  }
  const lg = document.getElementById('heat-legend-items');
  typeNames.forEach((n, i) => {
    const yy = 273.7 + i * 8.72;
    const s = mk(lg, 'rect', {x: 1312, y: (yy - 4.2).toFixed(1), width: 8.3, height: 8.3, fill: typeColors[i]});
    label(s, 'type-legend-swatch');
    const t = mk(lg, 'text', {x: 1322.5, y: (yy + 2.7).toFixed(1)}, n);
    label(t, 'type-legend-entry');
  });
  chrNames.forEach((n, i) => {
    const yy = 513.7 + i * 8.7;
    const s = mk(lg, 'rect', {x: 1312, y: (yy - 4.2).toFixed(1), width: 8.3, height: 8.3, fill: chrColors[i]});
    label(s, 'chr-legend-swatch');
    const t = mk(lg, 'text', {x: 1322.5, y: (yy + 2.7).toFixed(1)}, n);
    label(t, 'chr-legend-entry');
  });
})();

/* ---------- Dot plots (C, E) ---------- */
function drawDotPlot(cfg) {
  const g = document.getElementById(cfg.layer);
  const x = cfg.x, y = i => cfg.rowTop + i * cfg.rowStep;
  const gridG = mk(g, 'g', {'clip-path': 'url(#' + cfg.clip + ')'});
  label(gridG, cfg.prefix + '-grid');
  cfg.minor.forEach(v => {
    const l = mk(gridG, 'line', {x1: x(v), x2: x(v), y1: cfg.box[1], y2: cfg.box[3], stroke: '#f2f2f2', 'stroke-width': 0.8});
    label(l, cfg.prefix + '-minor-gridline');
  });
  cfg.ticks.forEach(v => {
    const l = mk(gridG, 'line', {x1: x(v), x2: x(v), y1: cfg.box[1], y2: cfg.box[3], stroke: '#ebebeb', 'stroke-width': 1.2});
    label(l, cfg.prefix + '-major-gridline');
  });
  cfg.terms.forEach((t, i) => {
    const l = mk(gridG, 'line', {x1: cfg.box[0], x2: cfg.box[2], y1: y(i), y2: y(i), stroke: '#ebebeb', 'stroke-width': 1.2});
    label(l, cfg.prefix + '-row-gridline');
  });
  cfg.ratio.forEach((v, i) => {
    const c = mk(g, 'circle', {cx: x(v).toFixed(1), cy: y(i).toFixed(1), r: cfg.r(cfg.count[i]).toFixed(2), fill: padjColor(cfg.padj[i])});
    label(c, cfg.prefix + '-dot-' + slug(cfg.terms[i]));
    const tk = mk(g, 'line', {x1: cfg.box[0] - 4, x2: cfg.box[0], y1: y(i), y2: y(i), stroke: '#333', 'stroke-width': 1});
    label(tk, cfg.prefix + '-y-tick');
    const tx = mk(g, 'text', {x: cfg.box[0] - 7.6, y: y(i) + 4.2, 'text-anchor': 'end', 'font-size': cfg.labelSize, class: 'tick'}, cfg.terms[i]);
    label(tx, cfg.prefix + '-y-tick-label');
  });
  cfg.ticks.forEach((v, i) => {
    const tk = mk(g, 'line', {x1: x(v), x2: x(v), y1: cfg.box[3], y2: cfg.box[3] + 4, stroke: '#333', 'stroke-width': 1});
    label(tk, cfg.prefix + '-x-tick');
    const tx = mk(g, 'text', {x: x(v), y: cfg.box[3] + 16.5, 'text-anchor': 'middle', 'font-size': cfg.labelSize, class: 'tick'}, cfg.tickLabels[i]);
    label(tx, cfg.prefix + '-x-tick-label');
  });
  const border = mk(g, 'rect', {x: cfg.box[0], y: cfg.box[1], width: cfg.box[2] - cfg.box[0], height: cfg.box[3] - cfg.box[1], fill: 'none', stroke: '#333', 'stroke-width': 1.4});
  label(border, cfg.prefix + '-panel-border');
  cfg.countLegend.forEach((n, i) => {
    const c = mk(g, 'circle', {cx: cfg.legendX, cy: cfg.legendY[i], r: cfg.r(n).toFixed(2), fill: '#000'});
    label(c, cfg.prefix + '-count-legend-dot');
    const tx = mk(g, 'text', {x: cfg.legendTextX, y: cfg.legendY[i] + 4.3, 'font-size': 12, fill: '#222'}, String(n));
    label(tx, cfg.prefix + '-count-legend-entry');
  });
  padjLegend.forEach((s, i) => {
    const yy = cfg.barTop + (1 - padjLegendValues[i]) * cfg.barH;
    const tx = mk(g, 'text', {x: cfg.legendTextX, y: yy + 4.3, 'font-size': 12, fill: '#222'}, s);
    label(tx, cfg.prefix + '-padj-legend-tick-label');
    [[cfg.barX, cfg.barX + 4.5], [cfg.barX + cfg.barW - 4.5, cfg.barX + cfg.barW]].forEach(e => {
      const tk = mk(g, 'line', {x1: e[0], x2: e[1], y1: yy, y2: yy, stroke: '#fff', 'stroke-width': 0.7});
      label(tk, cfg.prefix + '-padj-legend-tick');
    });
  });
}
drawDotPlot({
  layer: 'c-layer', prefix: 'go', clip: 'clipC', box: [274.6, 969, 610.6, 1617],
  x: v => 346.2 + (v - 0.025) * 3379, rowTop: 981.7, rowStep: 21.48,
  terms: goTerms, ratio: goRatio, count: goCount, padj: goPadj,
  ticks: goXTicks, tickLabels: goXTickLabels, minor: [0.0125, 0.0375, 0.0625, 0.0875],
  r: c => 2.75 + 6.85 * Math.sqrt(Math.max(0, c - 4) / 43), labelSize: 11.8,
  countLegend: goCountLegend, legendX: 645.5, legendY: [1181.9, 1206, 1230.3, 1254], legendTextX: 665,
  barX: 634, barW: 23.5, barTop: 1318.7, barH: 119.7
});
drawDotPlot({
  layer: 'e-layer', prefix: 'kegg', clip: 'clipE', box: [241.5, 1739.2, 592.4, 2368.3],
  x: v => 313.8 + (v - 0.04) * 3698, rowTop: 1758, rowStep: 31.18,
  terms: keggTerms, ratio: keggRatio, count: keggCount, padj: keggPadj,
  ticks: keggXTicks, tickLabels: keggXTickLabels, minor: [0.03, 0.05, 0.07, 0.09, 0.11],
  r: c => 2.2 + 7.2 * Math.sqrt(Math.max(0, c - 6) / 21), labelSize: 11.7,
  countLegend: keggCountLegend, legendX: 626, legendY: [1946, 1969.4, 1993, 2016.6], legendTextX: 645.5,
  barX: 615, barW: 23, barTop: 2079.5, barH: 115.5
});

/* ---------- Bar plots (D, F) ---------- */
function drawBarPlot(cfg) {
  const g = document.getElementById(cfg.layer);
  const x = i => cfg.x0 + i * cfg.step, y = v => cfg.y0 - v * cfg.unit;
  cfg.values.forEach((v, i) => {
    const b = mk(g, 'rect', {x: (x(i) - cfg.barW / 2).toFixed(2), y: y(v).toFixed(2), width: cfg.barW, height: (v * cfg.unit).toFixed(2), fill: cfg.color(i)});
    label(b, cfg.prefix + '-bar-' + slug(cfg.terms[i]));
    const n = mk(g, 'text', {x: x(i), y: y(v) - cfg.countGap, 'text-anchor': 'middle', 'font-size': cfg.countSize, fill: '#333'}, String(cfg.counts[i]));
    label(n, cfg.prefix + '-bar-count');
    const tk = mk(g, 'line', {x1: x(i), x2: x(i), y1: cfg.axisY, y2: cfg.axisY + 4, stroke: '#333', 'stroke-width': 1});
    label(tk, cfg.prefix + '-x-tick');
    const ax = x(i) + cfg.labelDx, ay = cfg.axisY + cfg.labelDy;
    const t = mk(g, 'text', {transform: 'translate(' + ax.toFixed(1) + ',' + ay + ') rotate(' + (-cfg.angle) + ')', 'text-anchor': 'end', 'font-size': cfg.labelSize, fill: '#5a5a5a'}, cfg.terms[i]);
    label(t, cfg.prefix + '-x-tick-label');
  });
  cfg.yTicks.forEach(v => {
    const tk = mk(g, 'line', {x1: cfg.axisX - 4, x2: cfg.axisX, y1: y(v), y2: y(v), stroke: '#333', 'stroke-width': 1});
    label(tk, cfg.prefix + '-y-tick');
    const t = mk(g, 'text', {x: cfg.axisX - 7, y: y(v) + 4.5, 'text-anchor': 'end', 'font-size': cfg.tickSize, class: 'tick'}, String(v));
    label(t, cfg.prefix + '-y-tick-label');
  });
  const a1 = mk(g, 'line', {x1: cfg.axisX, x2: cfg.axisX, y1: cfg.axisTop, y2: cfg.axisY + 0.7, stroke: '#222', 'stroke-width': 1.5});
  label(a1, cfg.prefix + '-y-axis');
  const a2 = mk(g, 'line', {x1: cfg.axisX, x2: cfg.axisRight, y1: cfg.axisY, y2: cfg.axisY, stroke: '#222', 'stroke-width': 1.5});
  label(a2, cfg.prefix + '-x-axis');
}
const categoryColor = {BP: '#FA7870', CC: '#00BA38', MF: '#619CFF'};
drawBarPlot({
  layer: 'd-layer', prefix: 'go-bar', terms: goBarTerms, values: goBarValues, counts: goBarCounts,
  x0: 768.2, step: 15.64, barW: 14.1, y0: 1401.1, unit: 55.6, color: i => categoryColor[goBarCategories[i]],
  countGap: 2, countSize: 7, labelDx: 3.5, labelDy: 9, angle: 64, labelSize: 9.3, yTicks: goBarYTicks, tickSize: 12.5,
  axisX: 759, axisY: 1420, axisTop: 985, axisRight: 1231.5
});
drawBarPlot({
  layer: 'f-layer', prefix: 'kegg-bar', terms: keggBarTerms, values: keggBarValues, counts: keggBarCounts,
  x0: 792, step: 27.28, barW: 24.5, y0: 2168.2, unit: 72.4, color: () => '#6090EB',
  countGap: 3.5, countSize: 11, labelDx: 4, labelDy: 9, angle: 54, labelSize: 11, yTicks: keggBarYTicks, tickSize: 11.5,
  axisX: 775.8, axisY: 2187.9, axisTop: 1754, axisRight: 1326.6
});
</script>
</body>
</html>
